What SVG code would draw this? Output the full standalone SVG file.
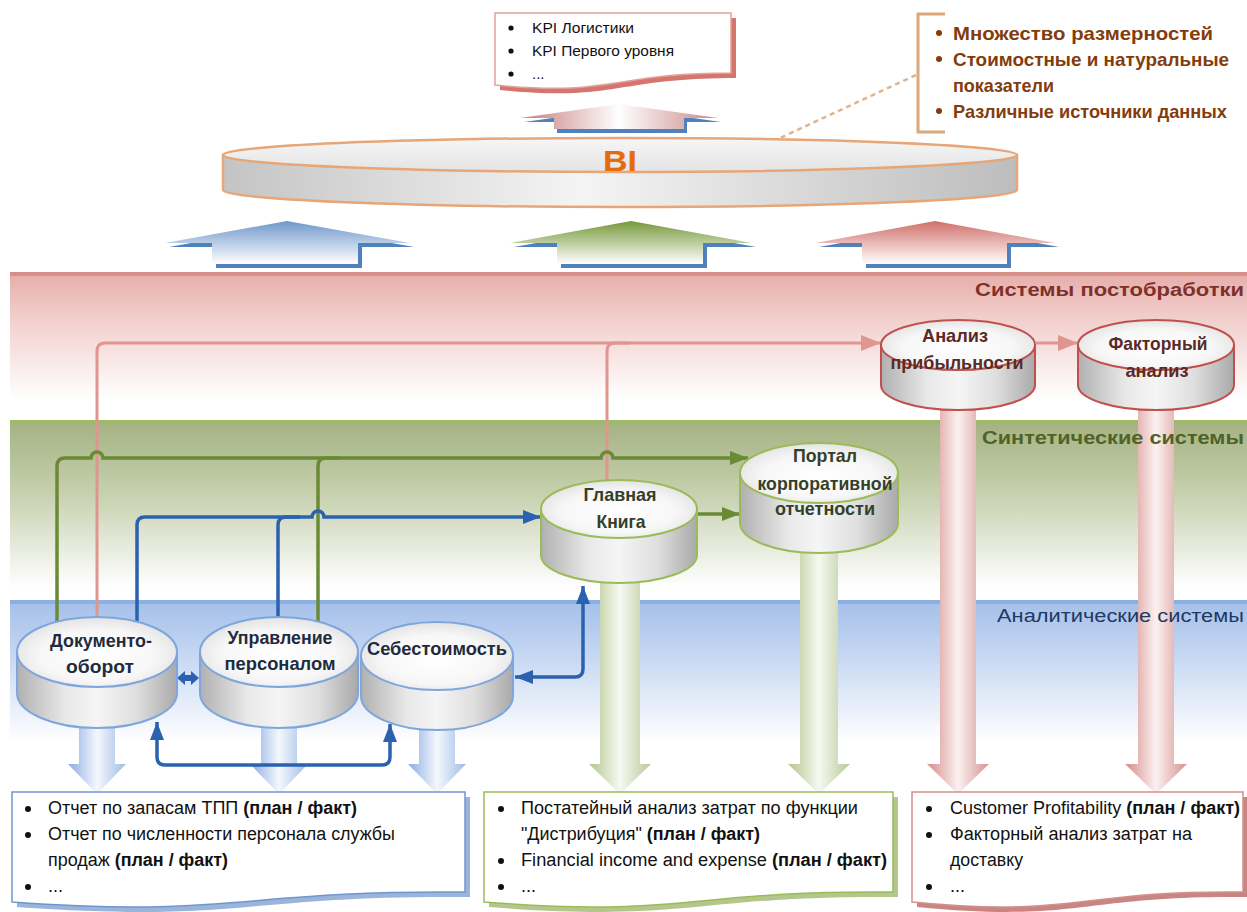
<svg xmlns="http://www.w3.org/2000/svg" width="1247" height="912" viewBox="0 0 1247 912">
<style>
.t{font-family:'Liberation Sans',Arial,sans-serif}
.doc{font-size:18px;fill:#111}
.b{font-weight:bold}
.cyl{font-size:19px;font-weight:bold;text-anchor:middle}
.band{font-size:18px;text-anchor:end}
.cb{fill:#1f2b3e}.cg{fill:#33402a}.cr{fill:#5a2a25}
.sideB{fill:url(#cylSide);stroke:#7ea6dc;stroke-width:2}
.sideG{fill:url(#cylSide);stroke:#9bbb59;stroke-width:2}
.sideR{fill:url(#cylSide);stroke:#c0504d;stroke-width:2}
.topB{fill:url(#cylTop);stroke:#7ea6dc;stroke-width:2}
.topG{fill:url(#cylTop);stroke:#9bbb59;stroke-width:2}
.topR{fill:url(#cylTop);stroke:#c0504d;stroke-width:2}
.cg1{fill:none;stroke:#6b8a35;stroke-width:3.5}
.cb1{fill:none;stroke:#2a62b0;stroke-width:3.5}
.cp1{fill:none;stroke:#e0958e;stroke-width:3}
</style>
<defs>
<linearGradient id="bandRed" x1="0" y1="0" x2="0" y2="1"><stop offset="0" stop-color="#e6aca8"/><stop offset="0.25" stop-color="#f0c9c6"/><stop offset="0.85" stop-color="#ffffff"/></linearGradient>
<linearGradient id="bandGreen" x1="0" y1="0" x2="0" y2="1"><stop offset="0" stop-color="#a3b281"/><stop offset="0.4" stop-color="#c6d0ae"/><stop offset="0.92" stop-color="#ffffff"/></linearGradient>
<linearGradient id="bandBlue" x1="0" y1="0" x2="0" y2="1"><stop offset="0" stop-color="#a4bfe9"/><stop offset="0.35" stop-color="#c4d6f2"/><stop offset="0.95" stop-color="#ffffff"/></linearGradient>
<radialGradient id="cylTop" cx="0.5" cy="0.55" r="0.6"><stop offset="0" stop-color="#ffffff"/><stop offset="0.6" stop-color="#f7f7f7"/><stop offset="1" stop-color="#dedede"/></radialGradient>
<linearGradient id="cylSide" x1="0" y1="0" x2="1" y2="0"><stop offset="0" stop-color="#b0b0b0"/><stop offset="0.3" stop-color="#e8e8e8"/><stop offset="0.5" stop-color="#f5f5f5"/><stop offset="0.75" stop-color="#dedede"/><stop offset="1" stop-color="#a9a9a9"/></linearGradient>
<linearGradient id="biTop" x1="0" y1="0" x2="0" y2="1"><stop offset="0" stop-color="#f6f6f6"/><stop offset="1" stop-color="#e4e4e4"/></linearGradient>
<linearGradient id="biSide" x1="0" y1="0" x2="1" y2="0"><stop offset="0" stop-color="#c4c4c4"/><stop offset="0.45" stop-color="#f4f4f4"/><stop offset="1" stop-color="#bdbdbd"/></linearGradient>
<linearGradient id="upBlue" x1="0" y1="0" x2="0" y2="1"><stop offset="0" stop-color="#7097cb"/><stop offset="1" stop-color="#ffffff"/></linearGradient>
<linearGradient id="upGreen" x1="0" y1="0" x2="0" y2="1"><stop offset="0" stop-color="#76993a"/><stop offset="1" stop-color="#ffffff"/></linearGradient>
<linearGradient id="upRed" x1="0" y1="0" x2="0" y2="1"><stop offset="0" stop-color="#d06f69"/><stop offset="1" stop-color="#ffffff"/></linearGradient>
<linearGradient id="upTop" x1="0" y1="0" x2="1" y2="0"><stop offset="0" stop-color="#c47c7a"/><stop offset="0.5" stop-color="#ffffff"/><stop offset="1" stop-color="#c98785"/></linearGradient>
<linearGradient id="dnBlue" x1="0" y1="0" x2="1" y2="0"><stop offset="0" stop-color="#8aabe0"/><stop offset="0.5" stop-color="#f4f8fd"/><stop offset="1" stop-color="#9fbbe5"/></linearGradient>
<linearGradient id="dnGreen" x1="0" y1="0" x2="1" y2="0"><stop offset="0" stop-color="#b2c58b"/><stop offset="0.5" stop-color="#f7f9f2"/><stop offset="1" stop-color="#b7c898"/></linearGradient>
<linearGradient id="dnRed" x1="0" y1="0" x2="1" y2="0"><stop offset="0" stop-color="#d38b88"/><stop offset="0.5" stop-color="#fbf1f0"/><stop offset="1" stop-color="#d59390"/></linearGradient>
<marker id="mG" markerUnits="userSpaceOnUse" markerWidth="18" markerHeight="14" refX="18" refY="7" orient="auto-start-reverse"><path d="M0,0 L18,7 L0,14 Z" fill="#6b8a35"/></marker>
<marker id="mB" markerUnits="userSpaceOnUse" markerWidth="18" markerHeight="14" refX="18" refY="7" orient="auto-start-reverse"><path d="M0,0 L18,7 L0,14 Z" fill="#2a62b0"/></marker>
<marker id="mP" markerUnits="userSpaceOnUse" markerWidth="20" markerHeight="16" refX="20" refY="8" orient="auto-start-reverse"><path d="M0,0 L20,8 L0,16 Z" fill="#e0958e"/></marker>
</defs>

<rect x="0" y="0" width="1247" height="912" fill="#ffffff"/>

<!-- bands -->
<g id="bands">
<rect x="10" y="272" width="1237" height="150" fill="url(#bandRed)"/>
<rect x="10" y="272" width="1237" height="4" fill="#d78f89"/>
<rect x="10" y="420" width="1237" height="182" fill="url(#bandGreen)"/>
<rect x="10" y="420" width="1237" height="4" fill="#9dbb66"/>
<rect x="10" y="600" width="1237" height="150" fill="url(#bandBlue)"/>
<rect x="10" y="600" width="1237" height="4" fill="#8cb0e2"/>
</g>

<!-- top document KPI -->
<g id="kpi-doc">
<path d="M500,18 H736 V78 C615,78 615,102 500,90 Z" fill="#d4766e"/>
<path d="M495,13 H731 V73 C613,73 613,97 495,85 Z" fill="#ffffff" stroke="#e3a19b" stroke-width="1.5"/>
<circle cx="511" cy="28" r="2.6" fill="#111"/>
<text class="t" x="532" y="33" font-size="15" fill="#111" textLength="102" lengthAdjust="spacingAndGlyphs">KPI Логистики</text>
<circle cx="511" cy="51" r="2.6" fill="#111"/>
<text class="t" x="532" y="56" font-size="15" fill="#111" textLength="142" lengthAdjust="spacingAndGlyphs">KPI Первого уровня</text>
<circle cx="511" cy="74" r="2.6" fill="#111"/>
<text class="t" x="532" y="79" font-size="15" fill="#111">...</text>
</g>

<!-- top arrow into KPI -->
<g id="bi-up-arrow">
<polygon points="623,108 721,122 687,122 687,133 557,133 557,122 524,122" fill="#4f81bd"/>
<polygon points="619,104 718,118 684,118 684,129 554,129 554,118 520,118" fill="url(#upTop)"/>
</g>

<!-- bracket note -->
<g id="note">
<path d="M945,14 H918 V132 H945" fill="none" stroke="#dca77a" stroke-width="3"/>
<line x1="916" y1="75" x2="780" y2="138" stroke="#e2b48c" stroke-width="2.5" stroke-dasharray="5 4"/>
<g fill="#843c0c">
<circle cx="939" cy="33" r="3"/><circle cx="939" cy="59" r="3"/><circle cx="939" cy="111" r="3"/>
</g>
<g class="t b" font-size="19" fill="#843c0c">
<text x="953" y="40" textLength="260" lengthAdjust="spacingAndGlyphs">Множество размерностей</text>
<text x="953" y="66" textLength="276" lengthAdjust="spacingAndGlyphs">Стоимостные и натуральные</text>
<text x="953" y="92" textLength="101" lengthAdjust="spacingAndGlyphs">показатели</text>
<text x="953" y="118" textLength="274" lengthAdjust="spacingAndGlyphs">Различные источники данных</text>
</g>
</g>

<!-- BI disk -->
<g id="bi">
<path d="M223,155 V190 A397,17 0 0 0 1017,190 V155 Z" fill="url(#biSide)" stroke="#e6a677" stroke-width="2.5"/>
<ellipse cx="620" cy="155" rx="397" ry="17" fill="url(#biTop)" stroke="#e6a677" stroke-width="2.5"/>
<text class="t b" x="620" y="171" font-size="29" fill="#e46c0a" text-anchor="middle" textLength="34" lengthAdjust="spacingAndGlyphs">BI</text>
</g>

<!-- up arrows to BI -->
<g id="up-arrows">
<polygon points="291,225 414,247 362,247 362,268 216,268 216,247 169,247" fill="#4f81bd"/>
<polygon points="287,221 410,243 358,243 358,264 212,264 212,243 165,243" fill="url(#upBlue)"/>
<polygon points="635,225 756,247 707,247 707,268 561,268 561,247 514,247" fill="#4f81bd"/>
<polygon points="631,221 752,243 703,243 703,264 557,264 557,243 510,243" fill="url(#upGreen)"/>
<polygon points="939,225 1059,247 1011,247 1011,268 866,268 866,247 819,247" fill="#4f81bd"/>
<polygon points="935,221 1055,243 1007,243 1007,264 862,264 862,243 815,243" fill="url(#upRed)"/>
</g>

<!-- down arrows (shafts) -->
<g id="down-arrows">
<polygon points="940,390 976,390 976,764 989,764 958,794 927,764 940,764" fill="url(#dnRed)"/>
<polygon points="1138,390 1174,390 1174,764 1187,764 1156,794 1125,764 1138,764" fill="url(#dnRed)"/>
<polygon points="600,560 640,560 640,764 651,764 620,794 589,764 600,764" fill="url(#dnGreen)"/>
<polygon points="800,525 838,525 838,764 850,764 819,794 788,764 800,764" fill="url(#dnGreen)"/>
<polygon points="79,715 115,715 115,764 126,764 97,794 68,764 79,764" fill="url(#dnBlue)"/>
<polygon points="261,715 297,715 297,764 308,764 279,794 250,764 261,764" fill="url(#dnBlue)"/>
<polygon points="419,715 455,715 455,764 466,764 437,794 408,764 419,764" fill="url(#dnBlue)"/>
</g>

<!-- band labels -->
<g id="band-labels" class="t">
<text class="band b" x="1244" y="296" fill="#7f302b" textLength="269" lengthAdjust="spacingAndGlyphs">Системы постобработки</text>
<text class="band b" x="1244" y="444" fill="#4f6228" textLength="262" lengthAdjust="spacingAndGlyphs">Синтетические системы</text>
<text class="band" x="1244" y="622" fill="#1f3864" textLength="247" lengthAdjust="spacingAndGlyphs">Аналитические системы</text>
</g>

<!-- connectors -->
<g id="connectors">
<path class="cp1" d="M97,617 V351 Q97,343 105,343 H881" marker-end="url(#mP)"/>
<path class="cp1" d="M607,480 V351 Q607,343 615,343 H630"/>
<path class="cp1" d="M1036,343 H1078" marker-end="url(#mP)"/>
<path class="cg1" d="M57,622 V466 Q57,458 65,458 H91 A6,6 0 0 1 103,458 H601 A6,6 0 0 1 613,458 H748" marker-end="url(#mG)"/>
<path class="cg1" d="M318,621 V466 Q318,458 326,458 H340"/>
<path class="cg1" d="M697,514 H740" marker-end="url(#mG)"/>
<path class="cb1" d="M137,622 V525 Q137,517 145,517 H312 A6,6 0 0 1 324,517 H541" marker-end="url(#mB)"/>
<path class="cb1" d="M278,617 V525 Q278,517 286,517 H300"/>
<path class="cb1" d="M515,677 H575 Q583,677 583,669 V586" marker-start="url(#mB)" marker-end="url(#mB)"/>
<path class="cb1" d="M157,722 V757 Q157,765 165,765 H382 Q390,765 390,757 V724" marker-start="url(#mB)" marker-end="url(#mB)"/>
<path d="M177,678 L185,671 L185,675 L191,675 L191,671 L199,678 L191,685 L191,681 L185,681 L185,685 Z" fill="#2a62b0"/>
</g>

<!-- cylinders -->
<g id="anal-prib">
<path class="sideR" d="M881,345 V385 A77,25 0 0 0 1035,385 V345 Z"/>
<ellipse class="topR" cx="958" cy="345" rx="77" ry="25"/>
<text class="t cyl cr" x="955" y="342" textLength="66" lengthAdjust="spacingAndGlyphs">Анализ</text>
<text class="t cyl cr" x="957" y="369" textLength="133" lengthAdjust="spacingAndGlyphs">прибыльности</text>
</g>
<g id="factor">
<path class="sideR" d="M1078,345 V385 A78,25 0 0 0 1234,385 V345 Z"/>
<ellipse class="topR" cx="1156" cy="345" rx="78" ry="25"/>
<text class="t cyl cr" x="1158" y="350" textLength="99" lengthAdjust="spacingAndGlyphs">Факторный</text>
<text class="t cyl cr" x="1157" y="377" textLength="63" lengthAdjust="spacingAndGlyphs">анализ</text>
</g>
<g id="gl-kniga">
<path class="sideG" d="M541,509 V555 A78,28 0 0 0 697,555 V509 Z"/>
<ellipse class="topG" cx="619" cy="509" rx="78" ry="29"/>
<text class="t cyl cg" x="620" y="501" textLength="73" lengthAdjust="spacingAndGlyphs">Главная</text>
<text class="t cyl cg" x="621" y="528" textLength="49" lengthAdjust="spacingAndGlyphs">Книга</text>
</g>
<g id="portal">
<path class="sideG" d="M740,473 V523 A79,30 0 0 0 898,523 V473 Z"/>
<ellipse class="topG" cx="819" cy="473" rx="79" ry="30"/>
<text class="t cyl cg" x="825" y="462" textLength="64" lengthAdjust="spacingAndGlyphs">Портал</text>
<text class="t cyl cg" x="825" y="490" textLength="135" lengthAdjust="spacingAndGlyphs">корпоративной</text>
<text class="t cyl cg" x="825" y="515" textLength="100" lengthAdjust="spacingAndGlyphs">отчетности</text>
</g>
<g id="docoborot">
<path class="sideB" d="M17,652 V693 A80,35 0 0 0 177,693 V652 Z"/>
<ellipse class="topB" cx="97" cy="652" rx="80" ry="35"/>
<text class="t cyl cb" x="101" y="647" textLength="102" lengthAdjust="spacingAndGlyphs">Документо-</text>
<text class="t cyl cb" x="100" y="673" textLength="68" lengthAdjust="spacingAndGlyphs">оборот</text>
</g>
<g id="upr-pers">
<path class="sideB" d="M200,652 V693 A79,35 0 0 0 358,693 V652 Z"/>
<ellipse class="topB" cx="279" cy="652" rx="79" ry="35"/>
<text class="t cyl cb" x="280" y="644" textLength="105" lengthAdjust="spacingAndGlyphs">Управление</text>
<text class="t cyl cb" x="280" y="670" textLength="111" lengthAdjust="spacingAndGlyphs">персоналом</text>
</g>
<g id="sebest">
<path class="sideB" d="M361,656 V696 A76,34 0 0 0 513,696 V656 Z"/>
<ellipse class="topB" cx="437" cy="656" rx="76" ry="34"/>
<text class="t cyl cb" x="437" y="655" textLength="140" lengthAdjust="spacingAndGlyphs">Себестоимость</text>
</g>

<!-- bottom documents -->
<g id="doc-left">
<path d="M17,797 H470 V897 C243,895 243,923 17,907 Z" fill="#9ab4da"/>
<path d="M12,792 H465 V892 C238,890 238,918 12,902 Z" fill="#ffffff" stroke="#6f96cf" stroke-width="1.5"/>
<g fill="#111"><circle cx="28" cy="809" r="3"/><circle cx="28" cy="835" r="3"/><circle cx="28" cy="887" r="3"/></g>
<text class="t doc" x="48" y="814" textLength="309" lengthAdjust="spacingAndGlyphs">Отчет по запасам ТПП <tspan class="b">(план / факт)</tspan></text>
<text class="t doc" x="48" y="840" textLength="347" lengthAdjust="spacingAndGlyphs">Отчет по численности персонала службы</text>
<text class="t doc" x="48" y="866" textLength="180" lengthAdjust="spacingAndGlyphs">продаж <tspan class="b">(план / факт)</tspan></text>
<text class="t doc" x="48" y="892">...</text>
</g>
<g id="doc-mid">
<path d="M489,797 H898 V897 C693,895 693,923 489,907 Z" fill="#b3c78c"/>
<path d="M484,792 H893 V892 C688,890 688,918 484,902 Z" fill="#ffffff" stroke="#9bbb59" stroke-width="1.5"/>
<g fill="#111"><circle cx="501" cy="809" r="3"/><circle cx="501" cy="861" r="3"/><circle cx="501" cy="887" r="3"/></g>
<text class="t doc" x="521" y="814" textLength="337" lengthAdjust="spacingAndGlyphs">Постатейный анализ затрат по функции</text>
<text class="t doc" x="521" y="840" textLength="239" lengthAdjust="spacingAndGlyphs">"Дистрибуция" <tspan class="b">(план / факт)</tspan></text>
<text class="t doc" x="521" y="866" textLength="366" lengthAdjust="spacingAndGlyphs">Financial income and expense <tspan class="b">(план / факт)</tspan></text>
<text class="t doc" x="521" y="892">...</text>
</g>
<g id="doc-right">
<path d="M917,797 H1247 V897 C1080,895 1080,923 917,907 Z" fill="#c98582"/>
<path d="M912,792 H1243 V892 C1077,890 1077,918 912,902 Z" fill="#ffffff" stroke="#d48f8b" stroke-width="1.5"/>
<g fill="#111"><circle cx="929" cy="809" r="3"/><circle cx="929" cy="835" r="3"/><circle cx="929" cy="887" r="3"/></g>
<text class="t doc" x="950" y="814" textLength="290" lengthAdjust="spacingAndGlyphs">Customer Profitability <tspan class="b">(план / факт)</tspan></text>
<text class="t doc" x="950" y="840" textLength="242" lengthAdjust="spacingAndGlyphs">Факторный анализ затрат на</text>
<text class="t doc" x="950" y="866" textLength="73" lengthAdjust="spacingAndGlyphs">доставку</text>
<text class="t doc" x="950" y="892">...</text>
</g>
</svg>
